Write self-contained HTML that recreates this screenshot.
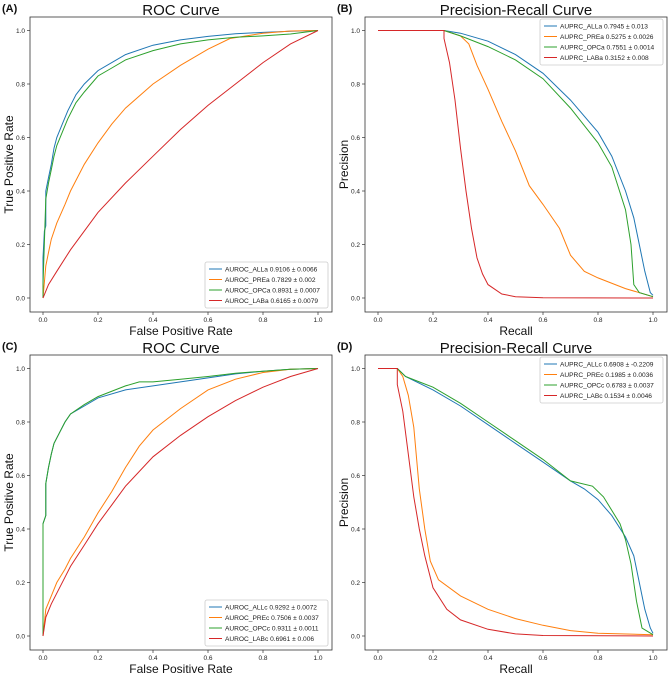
<!DOCTYPE html>
<html><head><meta charset="utf-8"><style>
body{margin:0;background:#fff}
svg{display:block;font-family:"Liberation Sans","DejaVu Sans",sans-serif}
</style></head><body>
<svg id="fig" width="669" height="673" viewBox="0 0 669 673"></svg>
<script>
// ---- data ----
const tickLabels = ["0.0","0.2","0.4","0.6","0.8","1.0"];
const tickValues = [0,0.2,0.4,0.6,0.8,1.0];
const seriesColors = ["#1f77b4","#ff7f0e","#2ca02c","#d62728"];

const rocA_names = ["AUROC_ALLa 0.9106 ± 0.0066","AUROC_PREa 0.7829 ± 0.002","AUROC_OPCa 0.8931 ± 0.0007","AUROC_LABa 0.6165 ± 0.0079"];
const rocA_ALL = [[0,0],[0,0.15],[0.005,0.25],[0.01,0.27],[0.01,0.4],[0.02,0.45],[0.03,0.5],[0.04,0.56],[0.05,0.6],[0.07,0.65],[0.09,0.7],[0.12,0.76],[0.15,0.8],[0.2,0.85],[0.25,0.88],[0.3,0.91],[0.4,0.945],[0.5,0.965],[0.6,0.978],[0.7,0.988],[0.8,0.993],[0.9,0.997],[1,1]];
const rocA_PRE = [[0,0],[0.01,0.12],[0.02,0.17],[0.03,0.22],[0.05,0.28],[0.08,0.35],[0.1,0.4],[0.15,0.5],[0.2,0.58],[0.25,0.65],[0.3,0.71],[0.4,0.8],[0.5,0.87],[0.6,0.93],[0.68,0.97],[0.8,0.99],[0.9,0.998],[1,1]];
const rocA_OPC = [[0,0],[0,0.05],[0.01,0.37],[0.02,0.43],[0.03,0.48],[0.04,0.53],[0.05,0.57],[0.07,0.62],[0.09,0.67],[0.12,0.73],[0.15,0.77],[0.2,0.83],[0.25,0.86],[0.3,0.89],[0.4,0.925],[0.5,0.95],[0.6,0.965],[0.7,0.975],[0.8,0.98],[0.9,0.987],[1,1]];
const rocA_LAB = [[0,0],[0.02,0.05],[0.05,0.1],[0.1,0.18],[0.15,0.25],[0.2,0.32],[0.3,0.43],[0.4,0.53],[0.5,0.63],[0.6,0.72],[0.7,0.8],[0.8,0.88],[0.9,0.95],[1,1]];

const prB_names = ["AUPRC_ALLa 0.7945 ± 0.013","AUPRC_PREa 0.5275 ± 0.0026","AUPRC_OPCa 0.7551 ± 0.0014","AUPRC_LABa 0.3152 ± 0.008"];
const prB_ALL = [[0,1],[0.24,1],[0.3,0.99],[0.4,0.96],[0.5,0.91],[0.6,0.84],[0.7,0.74],[0.8,0.62],[0.85,0.53],[0.9,0.4],[0.93,0.3],[0.95,0.2],[0.97,0.1],[0.99,0.02],[1,0.01]];
const prB_PRE = [[0,1],[0.24,1],[0.3,0.98],[0.33,0.95],[0.36,0.87],[0.4,0.78],[0.45,0.66],[0.5,0.55],[0.55,0.42],[0.6,0.35],[0.66,0.26],[0.7,0.16],[0.75,0.1],[0.8,0.075],[0.9,0.035],[1,0.005]];
const prB_OPC = [[0,1],[0.24,1],[0.3,0.98],[0.4,0.94],[0.5,0.89],[0.6,0.82],[0.7,0.71],[0.8,0.58],[0.85,0.49],[0.9,0.33],[0.92,0.2],[0.93,0.05],[0.95,0.02],[1,0.005]];
const prB_LAB = [[0,1],[0.24,1],[0.24,0.97],[0.26,0.88],[0.28,0.74],[0.3,0.56],[0.32,0.4],[0.34,0.26],[0.36,0.15],[0.38,0.09],[0.4,0.05],[0.45,0.015],[0.5,0.005],[0.6,0.001],[1,0]];

const rocC_names = ["AUROC_ALLc 0.9292 ± 0.0072","AUROC_PREc 0.7506 ± 0.0037","AUROC_OPCc 0.9311 ± 0.0011","AUROC_LABc 0.6961 ± 0.006"];
const rocC_ALL = [[0,0],[0,0.42],[0.01,0.45],[0.01,0.57],[0.02,0.63],[0.03,0.68],[0.04,0.72],[0.06,0.76],[0.08,0.8],[0.1,0.83],[0.15,0.86],[0.2,0.89],[0.3,0.92],[0.4,0.935],[0.5,0.95],[0.6,0.965],[0.7,0.98],[0.8,0.99],[0.9,0.997],[1,1]];
const rocC_PRE = [[0,0],[0.01,0.1],[0.03,0.15],[0.05,0.2],[0.08,0.25],[0.1,0.29],[0.15,0.37],[0.2,0.46],[0.25,0.54],[0.3,0.63],[0.35,0.71],[0.4,0.77],[0.5,0.85],[0.6,0.92],[0.7,0.96],[0.8,0.985],[0.9,0.997],[1,1]];
const rocC_OPC = [[0,0],[0,0.42],[0.01,0.45],[0.01,0.57],[0.02,0.63],[0.03,0.68],[0.04,0.72],[0.06,0.76],[0.08,0.8],[0.1,0.83],[0.15,0.865],[0.2,0.895],[0.3,0.935],[0.35,0.95],[0.4,0.95],[0.5,0.96],[0.6,0.97],[0.7,0.982],[0.8,0.99],[0.9,0.997],[1,1]];
const rocC_LAB = [[0,0],[0.01,0.07],[0.03,0.12],[0.05,0.16],[0.08,0.22],[0.1,0.26],[0.15,0.34],[0.2,0.42],[0.25,0.49],[0.3,0.56],[0.4,0.67],[0.5,0.75],[0.6,0.82],[0.7,0.88],[0.8,0.93],[0.9,0.97],[1,1]];

const prD_names = ["AUPRC_ALLc 0.6908 ± -0.2209","AUPRC_PREc 0.1985 ± 0.0036","AUPRC_OPCc 0.6783 ± 0.0037","AUPRC_LABc 0.1534 ± 0.0046"];
const prD_ALL = [[0,1],[0.07,1],[0.1,0.97],[0.2,0.92],[0.3,0.86],[0.4,0.79],[0.5,0.72],[0.6,0.65],[0.7,0.58],[0.75,0.55],[0.8,0.51],[0.85,0.45],[0.9,0.37],[0.93,0.3],[0.95,0.2],[0.97,0.1],[0.99,0.03],[1,0.01]];
const prD_PRE = [[0,1],[0.07,1],[0.09,0.97],[0.11,0.9],[0.13,0.78],[0.15,0.55],[0.17,0.4],[0.19,0.28],[0.22,0.21],[0.3,0.15],[0.4,0.1],[0.5,0.065],[0.6,0.04],[0.7,0.02],[0.8,0.01],[1,0.005]];
const prD_OPC = [[0,1],[0.07,1],[0.1,0.97],[0.15,0.95],[0.2,0.93],[0.3,0.87],[0.4,0.8],[0.5,0.73],[0.6,0.66],[0.7,0.58],[0.78,0.56],[0.82,0.52],[0.88,0.42],[0.9,0.36],[0.92,0.27],[0.94,0.13],[0.96,0.03],[1,0.005]];
const prD_LAB = [[0,1],[0.07,1],[0.07,0.94],[0.09,0.84],[0.11,0.68],[0.13,0.52],[0.15,0.4],[0.17,0.3],[0.2,0.18],[0.25,0.1],[0.3,0.06],[0.4,0.025],[0.5,0.008],[0.6,0.002],[1,0]];

// ---- drawing ----
const NS="http://www.w3.org/2000/svg";
const svg=document.getElementById('fig');
function mk(tag,attrs,parent,text){const e=document.createElementNS(NS,tag);for(const k in attrs)e.setAttribute(k,attrs[k]);if(text!==undefined)e.textContent=text;(parent||svg).appendChild(e);return e;}

function panel(ox,oy,key,title,xlab,ylab,names,series,legendTop){
  const g=mk('g',{transform:`translate(${ox},${oy})`});
  
  
  const L=30,R=332,T=17,B=312,x0=43,x1=318,y1=30.5,y0=298;
  const sx=v=>x0+v*(x1-x0), sy=v=>y0-v*(y0-y1);
  const pl=mk('text',{x:2,y:12,'font-size':11,'font-weight':'bold',fill:'#111'},g,'('+key+')');
  
  
  const tt=mk('text',{x:(L+R)/2,y:15,'font-size':15,'text-anchor':'middle',fill:'#111'},g,title);
  
  
  const fr=mk('rect',{x:L,y:T,width:R-L,height:B-T,fill:'#fff',stroke:'#333','stroke-width':0.8},g);
  
  
  tickValues.forEach((v,i)=>{
    mk('line',{x1:sx(v),x2:sx(v),y1:B,y2:B+3,stroke:'#333','stroke-width':0.7},g);
    const xt=mk('text',{x:sx(v),y:B+10,'font-size':6.5,'text-anchor':'middle',fill:'#222'},g,tickLabels[i]);
    
    
    mk('line',{x1:L-3,x2:L,y1:sy(v),y2:sy(v),stroke:'#333','stroke-width':0.7},g);
    const yt=mk('text',{x:L-5,y:sy(v)+2.3,'font-size':6.5,'text-anchor':'end',fill:'#222'},g,tickLabels[i]);
    
    
  });
  const xl=mk('text',{x:(L+R)/2,y:B+23,'font-size':12,'text-anchor':'middle',fill:'#111'},g,xlab);
  
  
  const yl=mk('text',{x:0,y:0,'font-size':12,'text-anchor':'middle',fill:'#111',transform:`translate(13,${(T+B)/2}) rotate(-90)`},g,ylab);
  
  
  series.forEach((s,i)=>{
    const p=mk('polyline',{points:s.map(d=>sx(d[0]).toFixed(1)+','+sy(d[1]).toFixed(1)).join(' '),fill:'none',stroke:seriesColors[i],'stroke-width':1},g);
    
    
  });
  const lw=123,lh=46,lx=R-lw-4,ly=legendTop?T+2:B-lh-4;
  const lg=mk('g',{},g);
  
  
  mk('rect',{x:lx,y:ly,width:lw,height:lh,fill:'#fff',stroke:'#ccc','stroke-width':0.8,rx:2},lg);
  names.forEach((n,i)=>{
    const yy=ly+7+i*10.5;
    mk('line',{x1:lx+4,x2:lx+17,y1:yy,y2:yy,stroke:seriesColors[i],'stroke-width':1},lg);
    const t=mk('text',{x:lx+20,y:yy+2.5,'font-size':6.6,fill:'#222'},lg,n);
    
    
  });
}
panel(0,0,'A','ROC Curve','False Positive Rate','True Positive Rate',rocA_names,[rocA_ALL,rocA_PRE,rocA_OPC,rocA_LAB],false);
panel(335,0,'B','Precision-Recall Curve','Recall','Precision',prB_names,[prB_ALL,prB_PRE,prB_OPC,prB_LAB],true);
panel(0,338,'C','ROC Curve','False Positive Rate','True Positive Rate',rocC_names,[rocC_ALL,rocC_PRE,rocC_OPC,rocC_LAB],false);
panel(335,338,'D','Precision-Recall Curve','Recall','Precision',prD_names,[prD_ALL,prD_PRE,prD_OPC,prD_LAB],true);
</script>
</body></html>
